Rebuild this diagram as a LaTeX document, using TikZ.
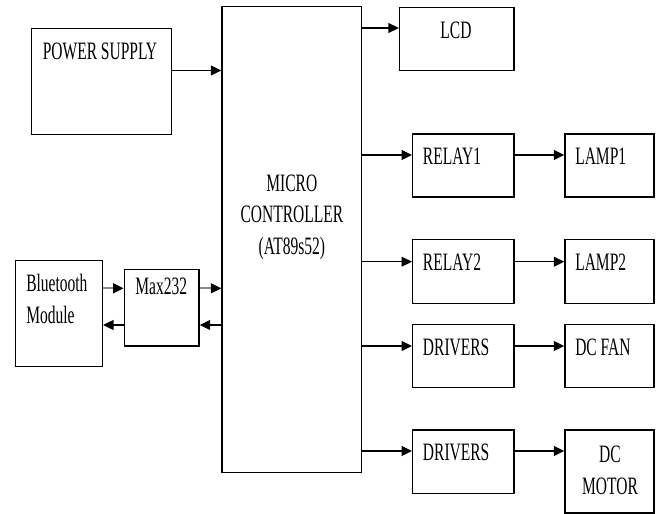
\documentclass[tikz,border=0pt]{standalone}
\usepackage{fontspec}
\setmainfont{Liberation Serif}
\usepackage{graphicx}
\usetikzlibrary{arrows.meta}
\newcommand{\sq}[1]{\scalebox{0.62}[1]{#1}}

\begin{document}
\begin{tikzpicture}[x=1cm,y=1cm,>={Triangle[length=7.5pt,width=7pt]},
    every node/.style={font=\fontsize{17.8}{22.5}\selectfont},
    blk/.style={draw,line width=1pt,inner sep=0pt},
    arr/.style={->,line width=1pt},
    garr/.style={-{Triangle[length=7.5pt,width=7pt,color=black]},draw=black!45,line width=1.3pt}]
      \useasboundingbox (0,0) rectangle (16.475,-12.85);

      % blocks
      \node[blk,minimum width=3.50cm,minimum height=2.65cm] (power) at (2.5375,-2.0325) {};
      \node[blk,minimum width=3.49cm,minimum height=11.64cm] (mcu) at (7.296,-5.9875) {};
      \node[blk,minimum width=2.86cm,minimum height=1.585cm] (lcd) at (11.421,-0.975) {};
      \node[blk,minimum width=2.53cm,minimum height=1.575cm] (relay1) at (11.584,-4.1375) {};
      \node[blk,minimum width=2.225cm,minimum height=1.575cm] (lamp1) at (15.2375,-4.1375) {};
      \node[blk,minimum width=2.53cm,minimum height=1.60cm] (relay2) at (11.584,-6.7825) {};
      \node[blk,minimum width=2.225cm,minimum height=1.60cm] (lamp2) at (15.2375,-6.7825) {};
      \node[blk,minimum width=2.53cm,minimum height=1.575cm] (drvfan) at (11.584,-8.895) {};
      \node[blk,minimum width=2.225cm,minimum height=1.575cm] (fan) at (15.2375,-8.895) {};
      \node[blk,minimum width=2.53cm,minimum height=1.5825cm] (drvmotor) at (11.584,-11.541) {};
      \node[blk,minimum width=2.225cm,minimum height=2.075cm] (motor) at (15.2375,-11.7875) {};
      \node[blk,minimum width=2.165cm,minimum height=2.65cm] (bt) at (1.475,-7.8425) {};
      \node[blk,minimum width=1.8675cm,minimum height=1.9175cm] (max) at (4.041,-7.691) {};

      % texts
      \node[anchor=base] (powertxt) at (2.5,-1.50) {\sq{POWER SUPPLY}};
      \node[anchor=base,align=center] (mcutxt) at (7.296,-6.36) {\sq{MICRO}\\\sq{CONTROLLER}\\\sq{(AT89s52)}};
      \node[anchor=base] (lcdtxt) at (11.40,-0.9575) {\sq{LCD}};
      \node[anchor=base west,inner sep=0pt] (relay1txt) at (10.5675,-4.125) {\sq{RELAY1}};
      \node[anchor=base west,inner sep=0pt] (lamp1txt) at (14.375,-4.125) {\sq{LAMP1}};
      \node[anchor=base west,inner sep=0pt] (relay2txt) at (10.5675,-6.7675) {\sq{RELAY2}};
      \node[anchor=base west,inner sep=0pt] (lamp2txt) at (14.375,-6.7675) {\sq{LAMP2}};
      \node[anchor=base west,inner sep=0pt] (drvfantxt) at (10.5675,-8.875) {\sq{DRIVERS}};
      \node[anchor=base west,inner sep=0pt] (fantxt) at (14.375,-8.875) {\sq{DC FAN}};
      \node[anchor=base west,inner sep=0pt] (drvmotortxt) at (10.5675,-11.50) {\sq{DRIVERS}};
      \node[anchor=base,align=center] (motortxt) at (15.25,-12.35) {\sq{DC}\\\sq{MOTOR}};
      \node[anchor=base west,inner sep=0pt,align=left] (bttxt) at (0.65,-8.0825) {\sq{Bluetooth}\\\sq{Module}};
      \node[anchor=base] (maxtxt) at (4.0325,-7.375) {\sq{Max232}};

      % connectors
      \draw[arr] (power.east |- 0,-1.7625) -- (mcu.west |- 0,-1.7625);
      \draw[arr] (mcu.east |- 0,-0.70) -- (lcd.west |- 0,-0.70);
      \draw[arr] (mcu.east |- 0,-3.875) -- (relay1.west |- 0,-3.875);
      \draw[arr] (relay1.east |- 0,-3.875) -- (lamp1.west |- 0,-3.875);
      \draw[arr] (mcu.east |- 0,-6.5425) -- (relay2.west |- 0,-6.5425);
      \draw[arr] (relay2.east |- 0,-6.5425) -- (lamp2.west |- 0,-6.5425);
      \draw[arr] (mcu.east |- 0,-8.65) -- (drvfan.west |- 0,-8.65);
      \draw[arr] (drvfan.east |- 0,-8.65) -- (fan.west |- 0,-8.65);
      \draw[arr] (mcu.east |- 0,-11.275) -- (drvmotor.west |- 0,-11.275);
      \draw[arr] (drvmotor.east |- 0,-11.275) -- (motor.west |- 0,-11.275);

      \draw[garr] (bt.east |- 0,-7.2075) -- (max.west |- 0,-7.2075);
      \draw[garr] (max.east |- 0,-7.2075) -- (mcu.west |- 0,-7.2075);
      \draw[arr] (max.west |- 0,-8.125) -- (bt.east |- 0,-8.125);
      \draw[arr] (mcu.west |- 0,-8.125) -- (max.east |- 0,-8.125);
\end{tikzpicture}
\end{document}
